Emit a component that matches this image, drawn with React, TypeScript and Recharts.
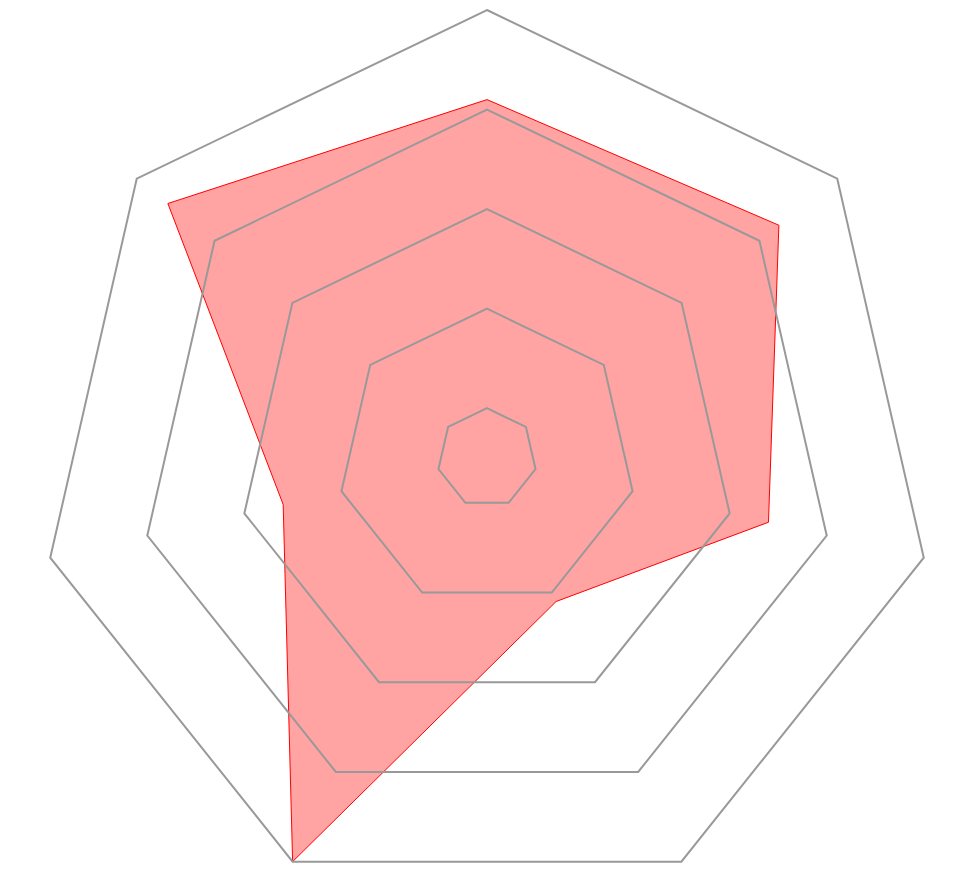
import React from "react";
import { RadarChart, Radar, PolarGrid, PolarAngleAxis, PolarRadiusAxis } from "recharts";

const axes = ["A", "B", "C", "D", "E", "F", "G"];
const values = [72, 75, 58, 32, 90, 42, 82];
const ringTicks = [10, 30, 50, 70, 90];

const data = axes.map((name, i) => ({ name, value: values[i] }));

export default function App() {
  return (
    <div style={{ position: "absolute", left: 0, top: 0, width: 954, height: 882 }}>
      <RadarChart
        width={954}
        height={882}
        data={data}
        cx={487}
        cy={458}
        outerRadius={448}
        margin={{ top: 0, right: 0, bottom: 0, left: 0 }}
      >
        <PolarAngleAxis dataKey="name" tick={false} axisLine={false} />
        <PolarRadiusAxis domain={[0, 90]} ticks={ringTicks} tick={false} axisLine={false} />
        <Radar
          dataKey="value"
          stroke="#ff0000"
          strokeWidth={1}
          fill="#ff0000"
          fillOpacity={0.36}
          isAnimationActive={false}
          zIndex={100}
        />
        <PolarGrid
          gridType="polygon"
          radialLines={false}
          stroke="#999999"
          strokeWidth={2}
          zIndex={500}
        />
      </RadarChart>
    </div>
  );
}
